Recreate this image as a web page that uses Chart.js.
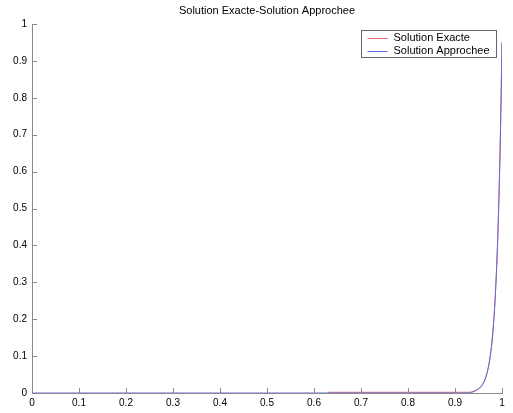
<!DOCTYPE html>
<html>
<head>
<meta charset="utf-8">
<script src="https://cdn.jsdelivr.net/npm/chart.js@4/dist/chart.umd.min.js"></script>
<style>
  html, body { margin: 0; padding: 0; background: #fff; }
  #wrap { width: 513px; height: 413px; }
</style>
</head>
<body>
<div id="wrap"><canvas id="chart" width="513" height="413"></canvas></div>
<script>
// values
const titleText = "Solution Exacte-Solution Approchee";
const seriesNames = ["Solution Exacte", "Solution Approchee"];

const approxX = [0, 0.1, 0.2, 0.3, 0.4, 0.5, 0.6, 0.7, 0.8, 0.9, 0.93, 0.94, 0.95, 0.955, 0.96, 0.965, 0.97, 0.975, 0.98, 0.985, 0.99, 0.993, 0.996, 0.998, 1];
const approxY = [0, 0, 0, 0, 0, 0, 0, 0, 0, 0, 0, 0.004, 0.011, 0.017, 0.026, 0.041, 0.064, 0.1, 0.157, 0.246, 0.386, 0.506, 0.663, 0.794, 0.95];

const exactX = [0.63, 0.7, 0.8, 0.9, 0.93, 0.94, 0.95, 0.955, 0.96, 0.965, 0.97, 0.975, 0.98, 0.985, 0.99, 0.993, 0.996, 0.998, 1];
const exactY = [0.002, 0.002, 0.002, 0.002, 0.002, 0.005, 0.011, 0.017, 0.026, 0.041, 0.064, 0.1, 0.157, 0.246, 0.386, 0.506, 0.663, 0.794, 0.95];

const xTickValues = [0, 0.1, 0.2, 0.3, 0.4, 0.5, 0.6, 0.7, 0.8, 0.9, 1];
const xTickLabels = ["0", "0.1", "0.2", "0.3", "0.4", "0.5", "0.6", "0.7", "0.8", "0.9", "1"];
const yTickValues = [0, 0.1, 0.2, 0.3, 0.4, 0.5, 0.6, 0.7, 0.8, 0.9, 1];
const yTickLabels = ["0", "0.1", "0.2", "0.3", "0.4", "0.5", "0.6", "0.7", "0.8", "0.9", "1"];

const red = "#e06868";
const blue = "#6666dc";
const axisColor = "#8a8a8a";
const font = "Liberation Sans, Arial, sans-serif";

function toPoints(xs, ys) {
  return xs.map((x, i) => ({ x: x, y: ys[i] }));
}

// inward ticks, title and boxed legend, matlab style
const matlabDecor = {
  id: "matlabDecor",
  afterDraw(chart) {
    const ctx = chart.ctx;
    const area = chart.chartArea;
    const xs = chart.scales.x;
    const ys = chart.scales.y;
    ctx.save();
    ctx.strokeStyle = axisColor;
    ctx.lineWidth = 1;
    ctx.beginPath();
    xTickValues.forEach(v => {
      const px = Math.round(xs.getPixelForValue(v)) + 0.5;
      ctx.moveTo(px, area.bottom);
      ctx.lineTo(px, area.bottom - 5);
    });
    yTickValues.forEach(v => {
      const py = Math.round(ys.getPixelForValue(v)) + 0.5;
      ctx.moveTo(area.left, py);
      ctx.lineTo(area.left + 5, py);
    });
    ctx.stroke();

    // title
    ctx.fillStyle = "#000";
    ctx.font = "11px " + font;
    ctx.textAlign = "center";
    ctx.textBaseline = "middle";
    ctx.fillText(titleText, (area.left + area.right) / 2, 11);

    // legend
    const bx = 361.5, by = 30.5, bw = 135, bh = 27;
    ctx.fillStyle = "#fff";
    ctx.fillRect(bx, by, bw, bh);
    ctx.strokeStyle = "#666";
    ctx.strokeRect(bx, by, bw, bh);
    ctx.textAlign = "left";
    const legendColors = [red, blue];
    seriesNames.forEach((name, i) => {
      const ly = by + 7 + i * 13;
      ctx.strokeStyle = legendColors[i];
      ctx.beginPath();
      ctx.moveTo(bx + 6, Math.round(ly) + 0.5);
      ctx.lineTo(bx + 26, Math.round(ly) + 0.5);
      ctx.stroke();
      ctx.fillStyle = "#000";
      ctx.fillText(name, bx + 32, ly);
    });
    ctx.restore();
  }
};

new Chart(document.getElementById("chart"), {
  type: "line",
  data: {
    datasets: [
      {
        label: seriesNames[0],
        data: toPoints(exactX, exactY),
        borderColor: red,
        borderWidth: 1,
        pointRadius: 0,
        cubicInterpolationMode: "monotone",
        order: 2,
        fill: false
      },
      {
        label: seriesNames[1],
        data: toPoints(approxX, approxY),
        borderColor: blue,
        borderWidth: 1,
        pointRadius: 0,
        cubicInterpolationMode: "monotone",
        order: 1,
        fill: false
      }
    ]
  },
  options: {
    responsive: false,
    animation: false,
    events: [],
    layout: { padding: { top: 24, right: 11, left: 0, bottom: 0 } },
    plugins: {
      legend: { display: false },
      title: { display: false },
      tooltip: { enabled: false }
    },
    scales: {
      x: {
        type: "linear",
        min: 0,
        max: 1,
        afterFit(s) { s.height = 20; },
        afterBuildTicks(s) { s.ticks = xTickValues.map(v => ({ value: v })); },
        border: { display: true, color: axisColor, width: 1 },
        grid: { display: false, drawTicks: false },
        ticks: {
          padding: 4,
          maxRotation: 0,
          autoSkip: false,
          color: "#000",
          font: { family: font, size: 10 },
          callback: (v, i) => xTickLabels[i]
        }
      },
      y: {
        type: "linear",
        min: 0,
        max: 1,
        afterFit(s) { s.width = 32; },
        afterBuildTicks(s) { s.ticks = yTickValues.map(v => ({ value: v })); },
        border: { display: true, color: axisColor, width: 1 },
        grid: { display: false, drawTicks: false },
        ticks: {
          padding: 5,
          autoSkip: false,
          color: "#000",
          font: { family: font, size: 10 },
          callback: (v, i) => yTickLabels[i]
        }
      }
    }
  },
  plugins: [matlabDecor]
});
</script>
</body>
</html>
